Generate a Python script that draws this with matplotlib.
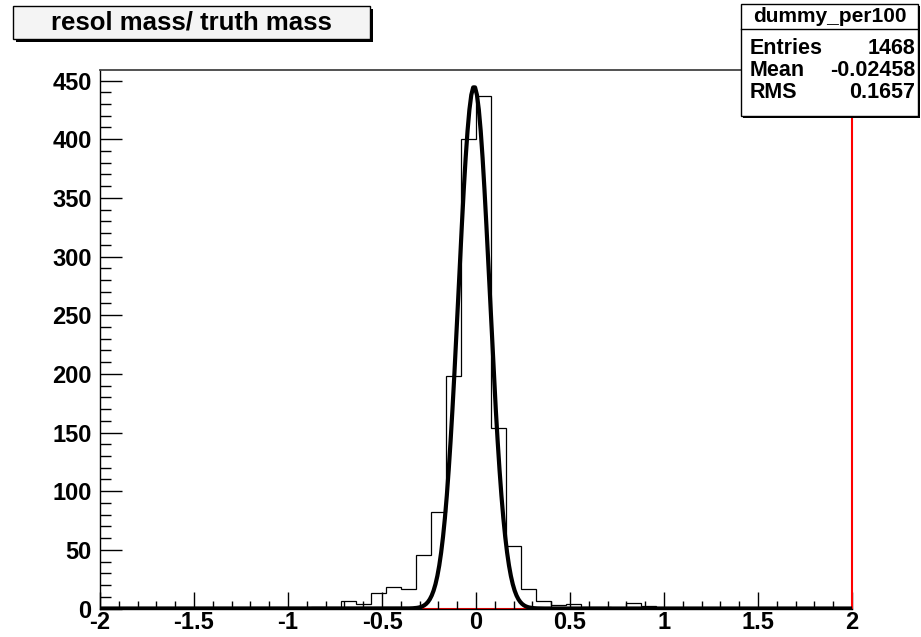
import numpy as np
import matplotlib
matplotlib.use('Agg')
import matplotlib.pyplot as plt
from matplotlib.patches import Rectangle
from matplotlib.ticker import MultipleLocator

plt.rcParams['font.family'] = ['Liberation Sans', 'DejaVu Sans']
plt.rcParams['font.weight'] = 'bold'

# histogram: 50 bins from -2 to 2
x_low = -2.0
x_high = 2.0
n_bins = 50
counts = [0, 0, 0, 0, 0, 0, 0, 0, 0, 0,
          0, 0, 0, 0, 1, 0, 6, 4, 13, 18,
          17, 46, 82, 198, 400, 437, 154, 53, 17, 6,
          3, 4, 1, 1, 0, 5, 2, 0, 0, 0,
          0, 0, 0, 0, 0, 0, 0, 0, 0, 0]

# gaussian fit parameters
fit_const = 445.0
fit_mean = -0.01
fit_sigma = 0.083

title_text = 'resol mass/ truth mass'
stats_name = 'dummy_per100'
stats_rows = [('Entries', '1468'), ('Mean', '-0.02458'), ('RMS', '0.1657')]

W, H = 921, 637
fig = plt.figure(figsize=(W / 100, H / 100), dpi=100)


def fx(px):
    return px / W


def fy(py):
    return 1 - py / H


ax = fig.add_axes([fx(100), fy(608.5), fx(852) - fx(100), fy(70) - fy(608.5)])

edges = np.linspace(x_low, x_high, n_bins + 1)

# red zero line (second, empty hist)
ax.axhline(0, color='red', lw=1.5, zorder=1)

ax.stairs(counts, edges, color='black', lw=0.9, zorder=2)

xf = np.linspace(x_low, x_high, 400)
yf = fit_const * np.exp(-0.5 * ((xf - fit_mean) / fit_sigma) ** 2)
ax.plot(xf, yf, color='black', lw=3, zorder=3)

ax.set_xlim(x_low, x_high)
ax.set_ylim(0, 459)

ax.xaxis.set_major_locator(MultipleLocator(0.5))
ax.xaxis.set_minor_locator(MultipleLocator(0.1))
ax.yaxis.set_major_locator(MultipleLocator(50))
ax.yaxis.set_minor_locator(MultipleLocator(10))
ax.xaxis.set_major_formatter(lambda v, p: '%g' % v)
ax.tick_params(axis='x', which='major', direction='in', length=12, width=1, labelsize=17, pad=2)
ax.tick_params(axis='x', which='minor', direction='in', length=6, width=1)
ax.tick_params(axis='y', which='major', direction='in', length=16, width=1, labelsize=17, pad=6)
ax.tick_params(axis='y', which='minor', direction='in', length=8, width=1)
for lab in ax.get_xticklabels() + ax.get_yticklabels():
    lab.set_fontweight('bold')

ax.spines['top'].set_color('#444444')
ax.spines['top'].set_linewidth(1.3)
ax.spines['right'].set_color('red')
ax.spines['right'].set_linewidth(1.5)
ax.spines['left'].set_linewidth(1)
ax.spines['bottom'].set_linewidth(1)

# title box with shadow
tl, tt, tr, tb = 13, 6, 370, 39
fig.patches.append(Rectangle((fx(tl + 3), fy(tb + 3)), fx(tr - tl), fy(tt) - fy(tb),
                             transform=fig.transFigure, facecolor='black', edgecolor='black', lw=0))
fig.patches.append(Rectangle((fx(tl), fy(tb)), fx(tr - tl), fy(tt) - fy(tb),
                             transform=fig.transFigure, facecolor='#f4f4f4', edgecolor='black', lw=1))
fig.text(fx((tl + tr) / 2), fy((tt + tb) / 2), title_text, ha='center', va='center',
         fontsize=18.5, fontweight='bold')

# stats box with shadow
sl, st, sr, sb = 741, 4, 918, 116
fig.patches.append(Rectangle((fx(sl + 2), fy(sb + 2)), fx(sr - sl), fy(st) - fy(sb),
                             transform=fig.transFigure, facecolor='black', edgecolor='black', lw=0, zorder=5))
fig.patches.append(Rectangle((fx(sl), fy(sb)), fx(sr - sl), fy(st) - fy(sb),
                             transform=fig.transFigure, facecolor='white', edgecolor='black', lw=1, zorder=6))
fig.add_artist(plt.Line2D([fx(sl), fx(sr)], [fy(29), fy(29)], color='black', lw=1,
                          transform=fig.transFigure, zorder=7))
fig.text(fx((sl + sr) / 2), fy(16.5), stats_name, ha='center', va='center',
         fontsize=15, fontweight='bold', zorder=8)
row_y = [48, 70, 92]
for (name, val), yy in zip(stats_rows, row_y):
    fig.text(fx(sl + 9), fy(yy), name, ha='left', va='center', fontsize=15.5, fontweight='bold', zorder=8)
    fig.text(fx(sr - 3), fy(yy), val, ha='right', va='center', fontsize=15.5, fontweight='bold', zorder=8)

fig.savefig('out.png', dpi=100)
